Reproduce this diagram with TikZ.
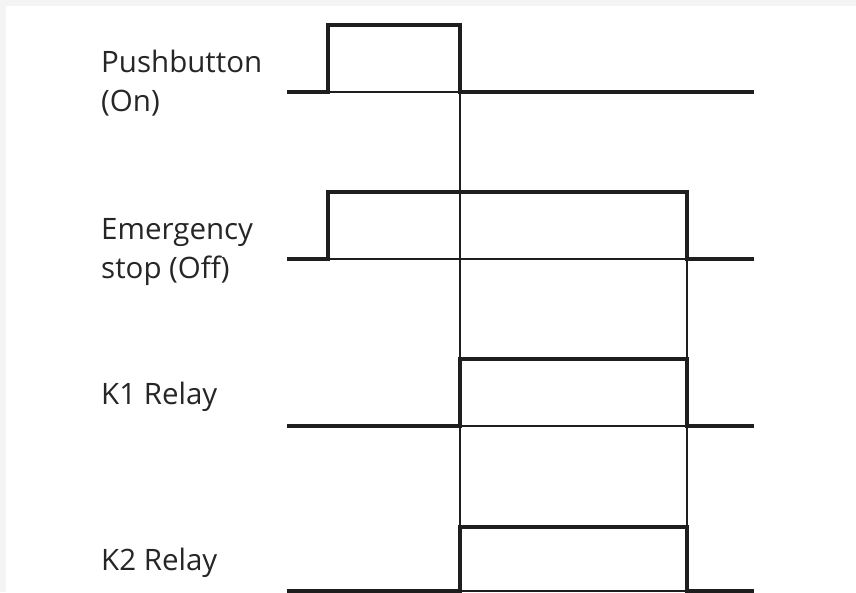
\documentclass[tikz,border=0pt]{standalone}
\usepackage{fontspec}
\setmainfont{Open Sans}
\definecolor{frame}{HTML}{F4F4F4}
\definecolor{ink}{HTML}{1E1E1E}
\definecolor{txt}{HTML}{262626}
\tikzset{
  thick line/.style={draw=ink, line width=3.8pt, line join=miter},
  thin line/.style={draw=ink, line width=1.3pt},
  lbl/.style={anchor=base west, inner sep=0pt, text=txt, font=\fontsize{29.5}{38}\selectfont, align=left},
}
\begin{document}
\begin{tikzpicture}[x=1pt,y=-1pt]
\useasboundingbox (0,0) rectangle (856,592);
\fill[frame] (0,0) rectangle (856,6);
\fill[frame] (0,0) rectangle (6,592);
% labels
\node[lbl] (lpb) at (101,72) {Pushbutton};
\node[lbl] (lpb2) at (101,111) {(On)};
\node[lbl] (les) at (101,239) {Emergency};
\node[lbl] (les2) at (101,278) {stop (Off)};
\node[lbl] (lk1) at (101,404) {K1 Relay};
\node[lbl] (lk2) at (101,570) {K2 Relay};
% thin guide lines
\draw[thin line] (460,92) -- (460,592);
\draw[thin line] (687,192) -- (687,592);
\draw[thin line] (328,92) -- (460,92);
\draw[thin line] (328,259) -- (687,259);
\draw[thin line] (460,426) -- (687,426);
\draw[thin line] (460,591) -- (687,591);
% Pushbutton
\draw[thick line] (287,92) -- (328,92) -- (328,25) -- (460,25) -- (460,92) -- (754,92);
% Emergency stop
\draw[thick line] (287,259) -- (328,259) -- (328,192) -- (687,192) -- (687,259) -- (754,259);
% K1
\draw[thick line] (287,426) -- (460,426) -- (460,359) -- (687,359) -- (687,426) -- (754,426);
% K2
\draw[thick line] (287,591) -- (460,591) -- (460,527) -- (687,527) -- (687,591) -- (754,591);
\end{tikzpicture}
\end{document}
